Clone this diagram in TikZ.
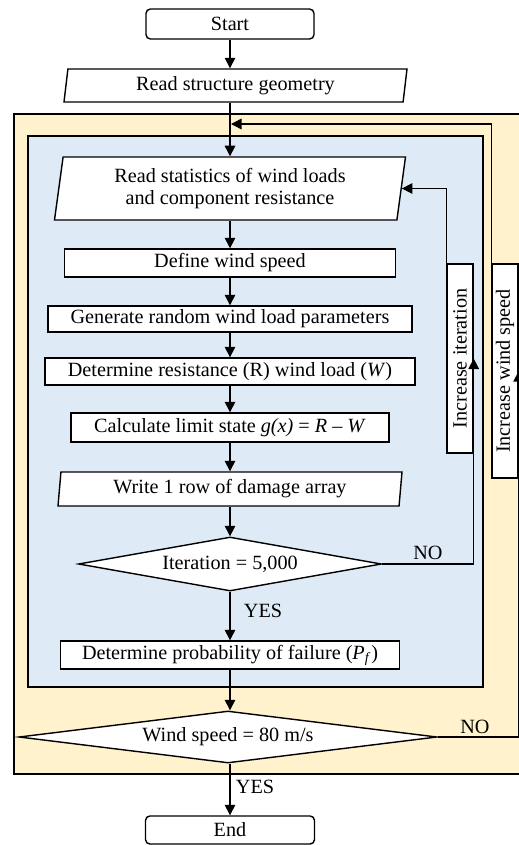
\documentclass[tikz,border=0pt]{standalone}
\usepackage{fontspec}
\setmainfont{Liberation Serif}
\usetikzlibrary{shapes.geometric, arrows.meta, positioning, calc}
\definecolor{speedyellow}{RGB}{255, 242, 204}
\definecolor{iterblue}{RGB}{222, 235, 247}
\def\pxu{0.2mm}

\tikzset{
  procbox/.style={draw, fill=white, line width=0.8pt, inner sep=0pt, align=center,
    font=\fontsize{11.5}{12.5}\selectfont},
  termbox/.style={procbox, rounded corners=2.5pt},
  iobox/.style={procbox, trapezium, trapezium left angle=78, trapezium right angle=102,
    trapezium stretches body=true},
  decbox/.style={procbox, diamond, aspect=6},
  loopbox/.style={procbox, rotate=90},
  flowarrow/.style={-{Triangle[width=6pt,length=6pt]}, line width=0.8pt},
  answer/.style={font=\fontsize{11.5}{12.5}\selectfont, inner sep=0pt},
}

\begin{document}
\begin{tikzpicture}[x=0.2mm, y=-0.2mm]
        \useasboundingbox (0,0) rectangle (519,845);

        % Loop frames
        \filldraw[fill=speedyellow, line width=0.8pt] (14,114) rectangle (530,774);
        \filldraw[fill=iterblue, line width=0.8pt] (28,136) rectangle (483,687);

        % Main column
        \node[termbox, minimum width=168*\pxu, minimum height=30*\pxu] (start) at (230,24) {Start};
        \node[iobox, minimum width=343*\pxu, minimum height=33*\pxu] (geom) at (235.5,85.5) {Read structure geometry};
        \node[iobox, minimum width=351*\pxu, minimum height=63*\pxu] (stats) at (230,188.5) {Read statistics of wind loads\\and component resistance};
        \node[procbox, minimum width=331*\pxu, minimum height=28*\pxu] (define) at (230,263) {Define wind speed};
        \node[procbox, minimum width=364*\pxu, minimum height=26*\pxu] (gen) at (230,319) {Generate random wind load parameters};
        \node[procbox, minimum width=370*\pxu, minimum height=27*\pxu] (resist) at (230,371.5) {Determine resistance (R) wind load (\textit{W})};
        \node[procbox, minimum width=318*\pxu, minimum height=29*\pxu] (calc) at (230,427.5) {Calculate limit state \textit{g(x)} = \textit{R} -- \textit{W}};
        \node[iobox, trapezium left angle=81, trapezium right angle=99, minimum width=344*\pxu, minimum height=34*\pxu] (write) at (230,489) {Write 1 row of damage array};
        \node[decbox, minimum width=303*\pxu, minimum height=54*\pxu] (iter) at (230,564) {Iteration = 5,000};
        \node[procbox, minimum width=339*\pxu, minimum height=28*\pxu] (prob) at (230,655) {Determine probability of failure (\textit{P}\textsubscript{\textit{f}})};
        \node[decbox, minimum width=418*\pxu, minimum height=52*\pxu] (wsdiam) at (228,737) {Wind speed = 80 m/s};
        \node[termbox, minimum width=169*\pxu, minimum height=28*\pxu] (end) at (230,830) {End};

        % Loop boxes
        \node[loopbox, minimum width=189*\pxu, minimum height=26*\pxu] (incit) at (460,358.5) {Increase iteration};
        \node[loopbox, minimum width=214*\pxu, minimum height=26*\pxu] (incws) at (505,371) {Increase wind speed};

        % Answers
        \node[answer] (noit) at (428,553) {NO};
        \node[answer] (yesit) at (263,611) {YES};
        \node[answer] (nows) at (475,727) {NO};
        \node[answer] (yesws) at (255,787) {YES};

        % Arrows
        \coordinate (wsreturn) at (231,124);
        \draw[flowarrow] (start.south) -- (start.south |- geom.north);
        \draw[flowarrow] (stats.north |- geom.south) -- (stats.north);
        \foreach \a/\b in {stats/define, define/gen, gen/resist, resist/calc, calc/write, write/iter, iter/prob}
            \draw[flowarrow] (\a.south) -- (\a.south |- \b.north);
        \draw[flowarrow] (prob.south) -- (prob.south |- wsdiam.north);
        \draw[flowarrow] (end.north |- wsdiam.south) -- (end.north);
        \draw[flowarrow] (iter.east) -| (incit.south);
        \draw[flowarrow] (incit.north) |- (stats.east);
        \draw[flowarrow] (wsdiam.east) -| (incws.south);
        \draw[flowarrow] (incws.north) |- (wsreturn);
    \end{tikzpicture}
\end{document}
